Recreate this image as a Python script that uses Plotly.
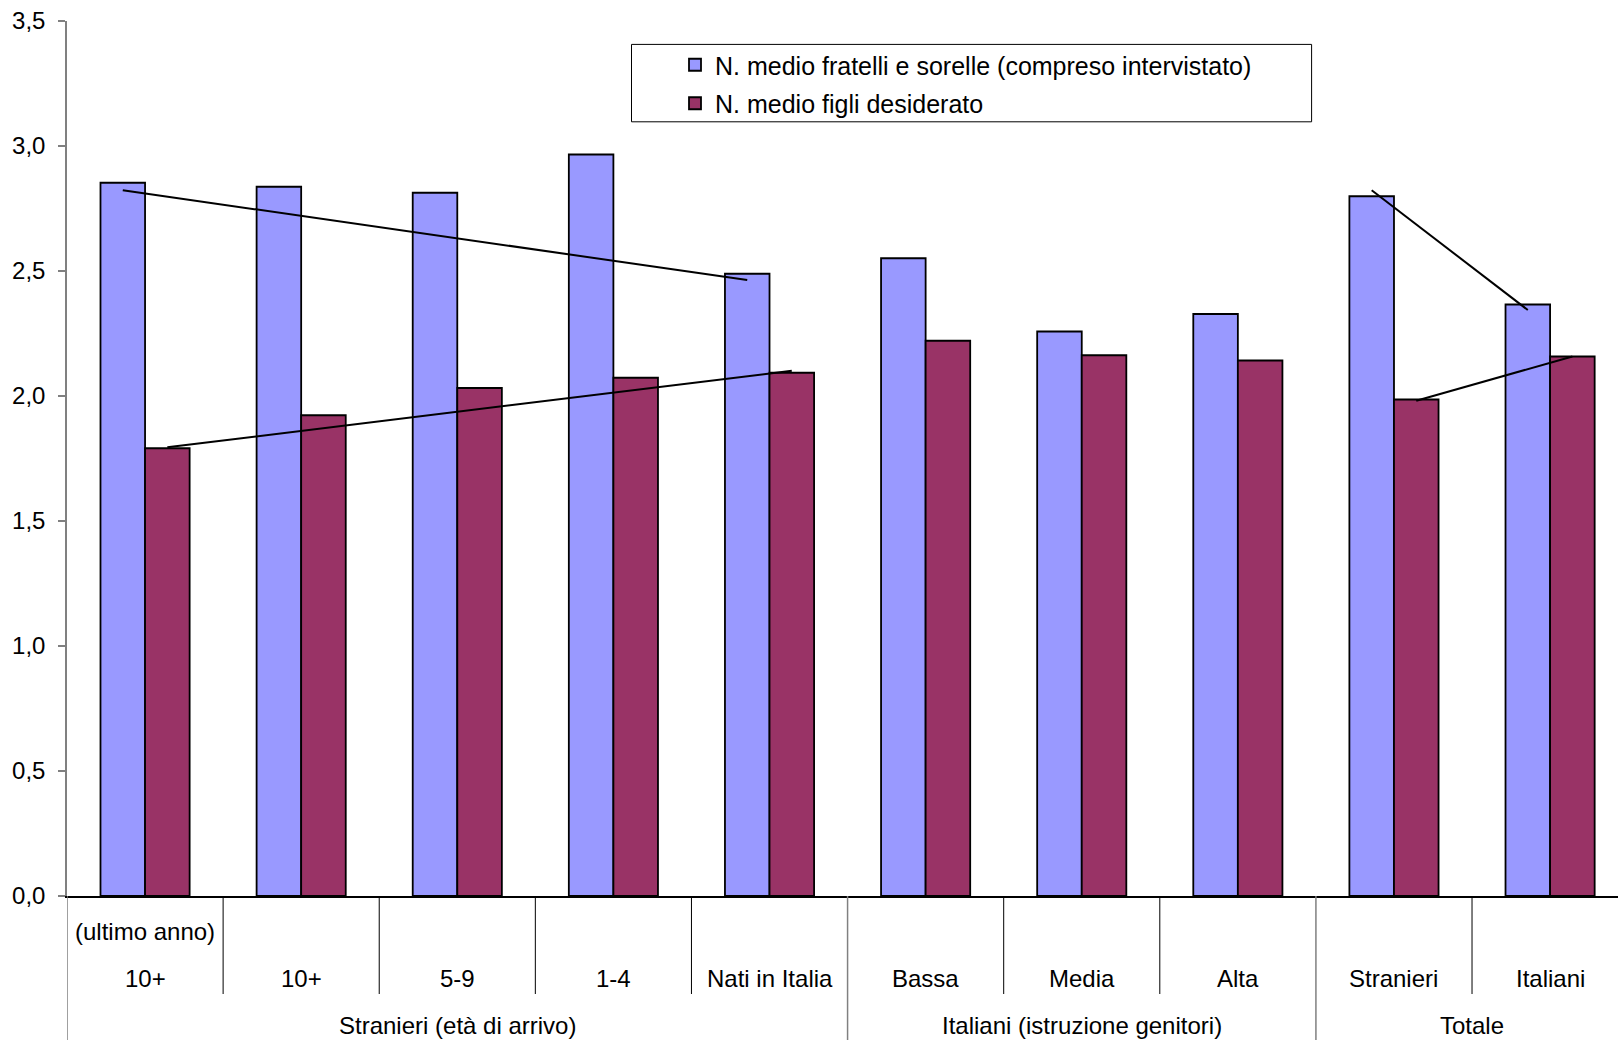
import plotly.graph_objects as go

# ---- data ----
categories = ["10+", "10+", "5-9", "1-4", "Nati in Italia",
              "Bassa", "Media", "Alta", "Stranieri", "Italiani"]
sublabel_first = "(ultimo anno)"
groups = ["Stranieri (età di arrivo)", "Italiani (istruzione genitori)", "Totale"]
group_spans = [(0, 4), (5, 7), (8, 9)]
series_names = ["N. medio fratelli e sorelle (compreso intervistato)",
                "N. medio figli desiderato"]
fratelli = [2.853, 2.837, 2.813, 2.966, 2.489, 2.551, 2.258, 2.328, 2.799, 2.366]
figli = [1.791, 1.923, 2.032, 2.073, 2.093, 2.221, 2.163, 2.142, 1.986, 2.158]
y_ticks = [0, 0.5, 1.0, 1.5, 2.0, 2.5, 3.0, 3.5]
# trend lines: (series index, from category, to category, dy start, dy end)
trend_lines = [(0, 0, 4, -0.03, -0.025), (1, 0, 4, 0.004, 0.008),
               (0, 8, 9, 0.024, -0.022), (1, 8, 9, -0.005, 0.0)]

# ---- style ----
FONT = "Liberation Sans, Arial, sans-serif"
FS = 24
colors = ["#9999FF", "#993366"]
W, H = 1618, 1040
ML, MT = 67, 21
plot_h = 875
MR = 0
MB = H - MT - plot_h
base_px = MT + plot_h  # page row of y=0
bargap = 0.429
barw = (1 - bargap) / 2
xrange_ = [-0.5, 9.435]

x = list(range(len(categories)))
values = [fratelli, figli]

fig = go.Figure()
for k in range(2):
    fig.add_trace(go.Bar(
        x=x, y=values[k], name=series_names[k], legendgroup=str(k),
        marker=dict(color=colors[k], line=dict(color="black", width=1.8)),
    ))


def ypx(py):
    return (base_px - py) / plot_h


def xpx(px):
    return (px - ML) / (W - ML - MR)


shapes = []
annotations = []
for i in range(len(categories) - 1):
    b = i + 0.5
    is_group = any(b == s[1] + 0.5 for s in group_spans[:-1])
    if is_group:
        shapes.append(dict(type="line", xref="x", yref="paper", x0=b, x1=b,
                           y0=0, y1=ypx(1045), line=dict(color="#808080", width=1.5)))
    else:
        shapes.append(dict(type="line", xref="x", yref="paper", x0=b, x1=b,
                           y0=0, y1=ypx(994), line=dict(color="black", width=1)))
shapes.append(dict(type="line", xref="x", yref="paper", x0=-0.5, x1=-0.5,
                   y0=0, y1=ypx(1045), line=dict(color="#808080", width=1.5)))

for s, a, b, da, db in trend_lines:
    off = -barw / 2 if s == 0 else barw / 2
    shapes.append(dict(type="line", xref="x", yref="y",
                       x0=a + off, y0=values[s][a] + da,
                       x1=b + off, y1=values[s][b] + db,
                       line=dict(color="black", width=2)))

shapes.append(dict(type="rect", xref="paper", yref="paper",
                   x0=xpx(631.5), x1=xpx(1311.6),
                   y0=ypx(121.8), y1=ypx(44.4), line=dict(color="black", width=1)))

for i, c in enumerate(categories):
    annotations.append(dict(x=i, y=0, xref="x", yref="paper", text=c, showarrow=False,
                            yanchor="middle", yshift=-(978 - base_px),
                            font=dict(family=FONT, size=FS, color="black")))
annotations.append(dict(x=0, y=0, xref="x", yref="paper", text=sublabel_first,
                        showarrow=False, yanchor="middle", yshift=-(931 - base_px),
                        font=dict(family=FONT, size=FS, color="black")))
for g, (a, b) in zip(groups, group_spans):
    annotations.append(dict(x=(a + b) / 2, y=0, xref="x", yref="paper", text=g,
                            showarrow=False, yanchor="middle", yshift=-(1025 - base_px),
                            font=dict(family=FONT, size=FS, color="black")))

fig.update_layout(
    width=W, height=H,
    margin=dict(l=ML, r=MR, t=MT, b=MB, pad=0),
    paper_bgcolor="white", plot_bgcolor="white",
    separators=",.",
    barmode="group", bargap=bargap, bargroupgap=0,
    font=dict(family=FONT, size=FS, color="black"),
    xaxis=dict(range=xrange_, showticklabels=False, ticks="", showgrid=False,
               zeroline=False, showline=True, linecolor="black", linewidth=1.5),
    yaxis=dict(range=[0, 3.5], tickvals=y_ticks, tickformat=".1f", showgrid=False,
               zeroline=False, showline=True, linecolor="#808080", linewidth=1.5,
               ticks="outside", ticklen=7, tickcolor="#808080", tickwidth=1.5,
               ticklabelstandoff=8, tickfont=dict(family=FONT, size=FS, color="black")),
    legend=dict(x=xpx(675), y=ypx(42), xanchor="left", yanchor="top",
                bgcolor="rgba(0,0,0,0)", borderwidth=0, traceorder="grouped",
                tracegroupgap=3, itemwidth=30,
                font=dict(family=FONT, size=25, color="black")),
    shapes=shapes, annotations=annotations,
)

fig.write_html(
    "out.html",
    config={"displayModeBar": False},
    post_script="document.body.style.margin='0px';document.body.style.overflow='hidden';",
)
